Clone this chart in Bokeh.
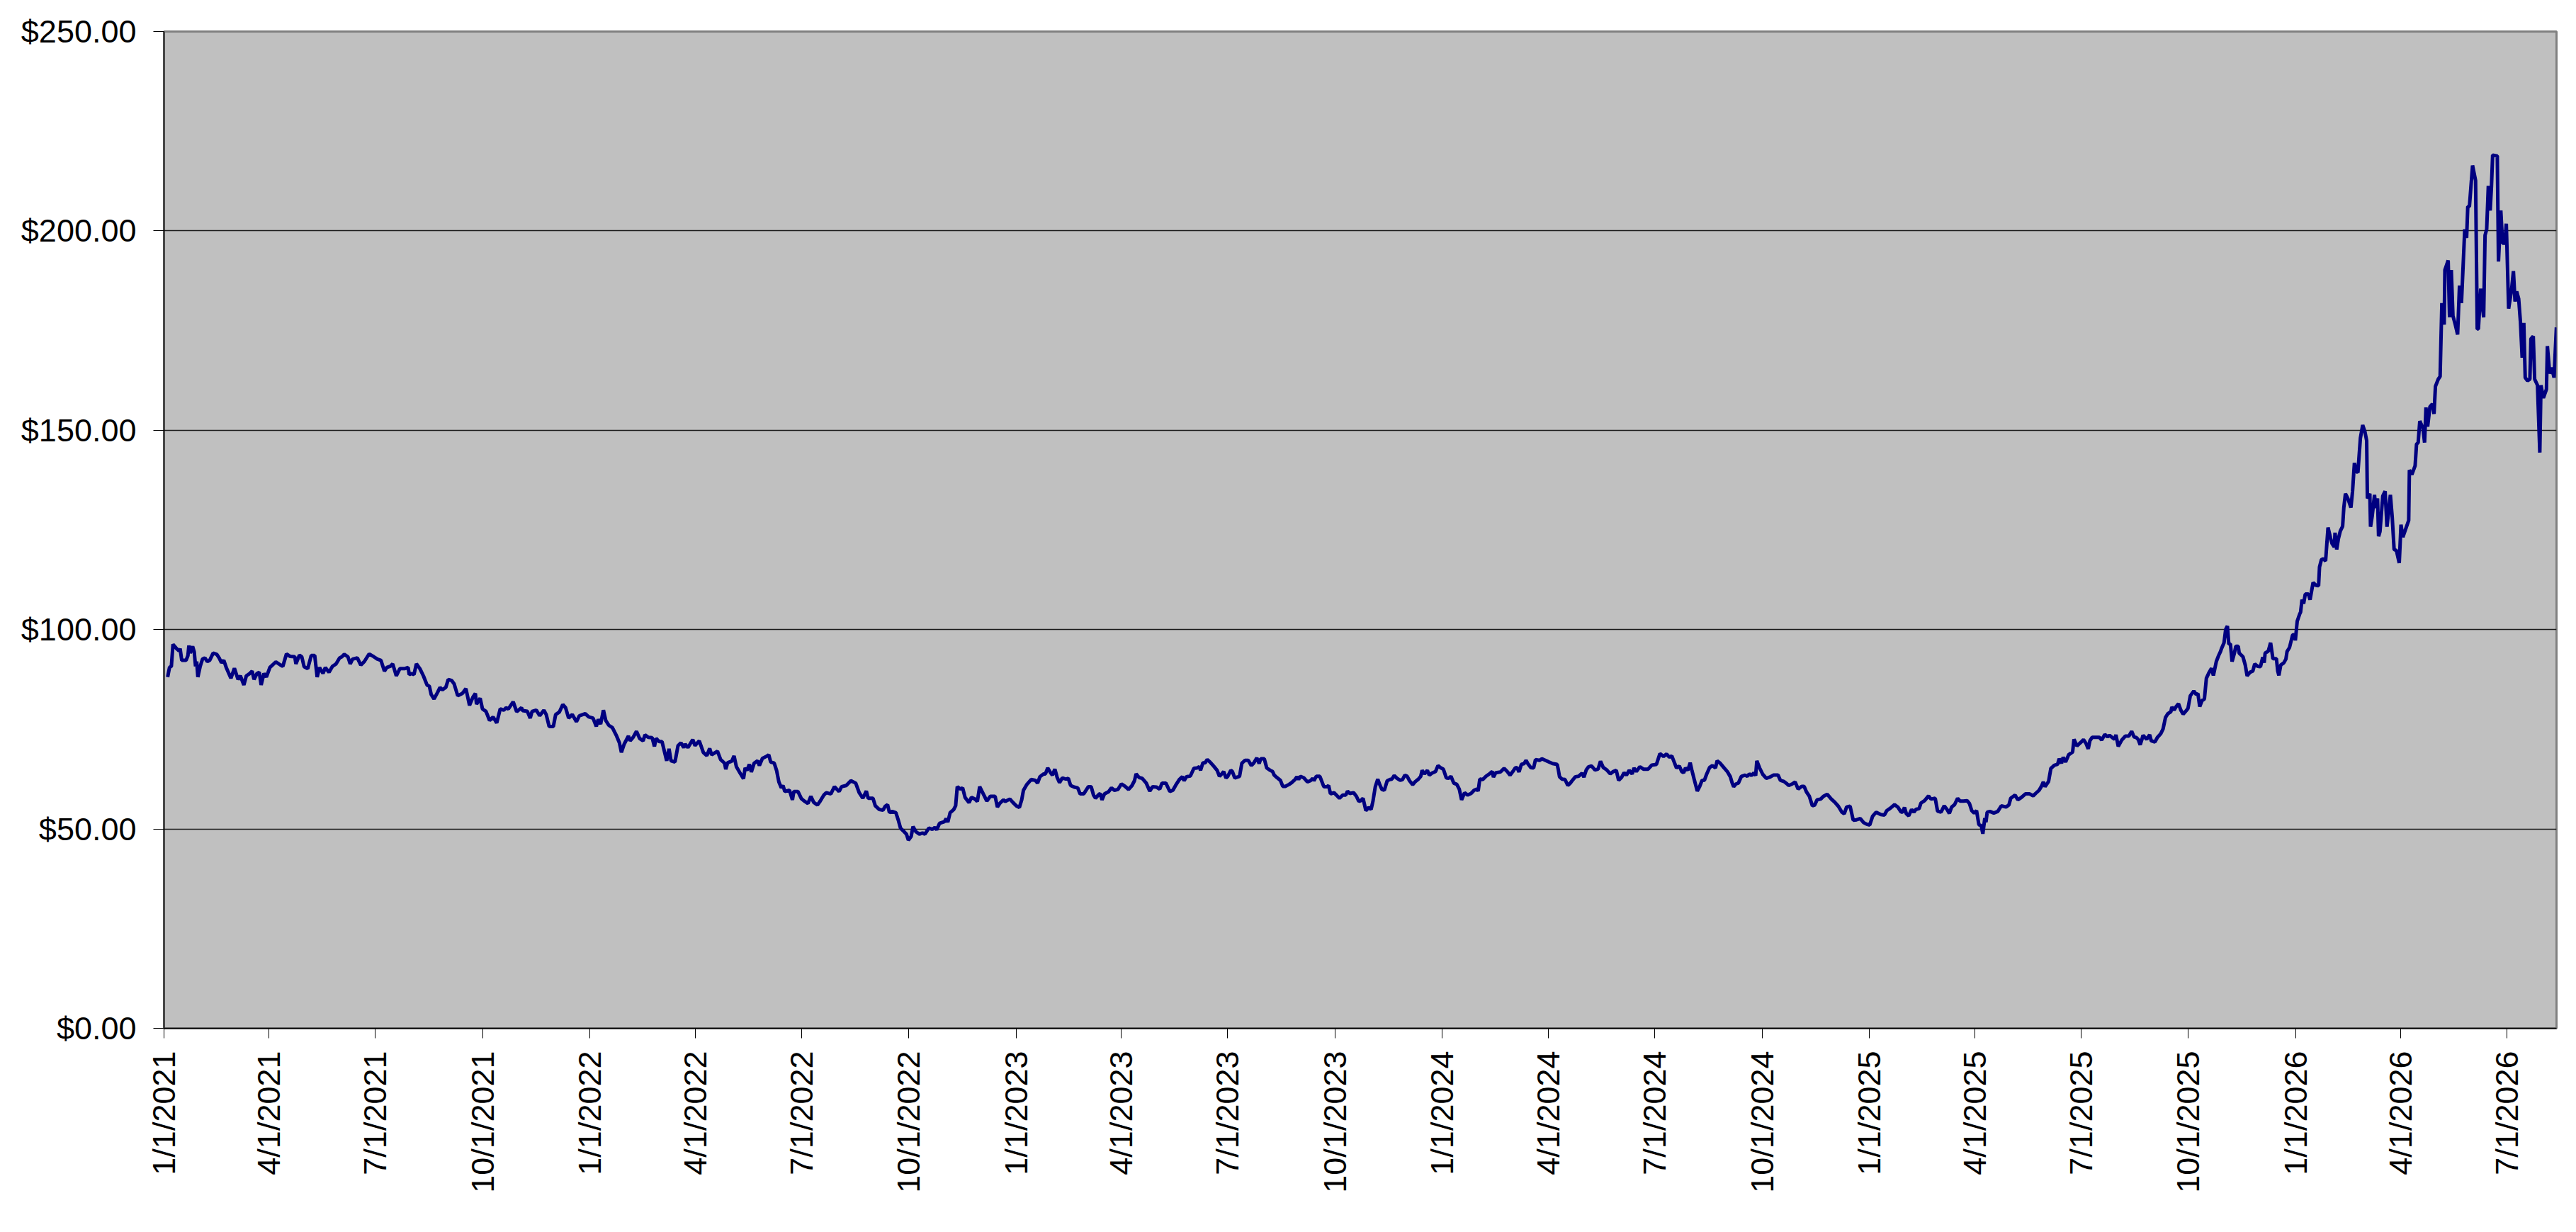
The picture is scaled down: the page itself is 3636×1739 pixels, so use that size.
import math
import pandas as pd
from bokeh.plotting import figure
from bokeh.models import Range1d, FixedTicker, NumeralTickFormatter, ColumnDataSource
from bokeh.embed import file_html
from bokeh.resources import INLINE

# ---------------- data ----------------
start_date = "2021-01-01"
axis_end_date = "2026-08-12 10:00"

# days since start_date
days = [
    3.1, 4.7, 6.3, 7.7, 10.8, 12.8, 13.8, 15.2, 18.9, 20.5,
    21.3, 22.5, 24.5, 25.9, 27.0, 28.0, 29.0, 31.0, 33.0, 35.0,
    37.1, 39.1, 42.1, 45.2, 47.2, 49.2, 51.2, 53.3, 57.3, 60.3,
    63.4, 65.4, 68.4, 70.5, 73.5, 75.5, 77.1, 79.6, 81.6, 83.2,
    85.6, 87.7, 90.7, 95.8, 99.8, 101.8, 104.9, 107.9, 112.0, 113.0,
    116.0, 118.0, 120.0, 123.1, 126.1, 129.1, 131.2, 133.2, 136.2, 138.2,
    141.3, 144.3, 147.4, 150.4, 152.4, 154.4, 157.5, 159.5, 161.5, 165.6,
    168.6, 171.6, 175.7, 179.7, 182.8, 185.8, 188.8, 190.9, 193.9, 195.9,
    199.0, 202.0, 206.0, 209.1, 210.1, 212.1, 214.1, 216.2, 219.2, 222.2,
    225.3, 227.3, 228.9, 231.3, 234.4, 236.4, 238.4, 241.4, 243.5, 246.5,
    248.5, 251.6, 255.6, 258.6, 261.7, 264.7, 266.7, 267.7, 270.8, 272.8,
    275.8, 278.9, 281.9, 285.0, 288.0,
    291.0, 293.0, 295.0, 299.1, 302.1, 306.2, 307.2, 311.2, 313.7, 315.3,
    318.9, 321.8, 325.4, 327.4, 329.9, 333.5, 335.5, 338.6, 341.6, 344.0,
    346.6, 349.7, 353.3, 355.8, 360.8, 363.8, 367.5, 370.3, 371.9, 374.0,
    376.4, 378.4, 381.0, 384.1, 387.7, 390.1, 391.8, 394.2, 397.8, 399.3,
    401.9, 404.7, 407.4, 410.4, 412.0, 414.8, 418.1, 420.1, 421.5, 424.1,
    426.6, 430.6, 432.6, 434.3, 437.7, 440.3, 442.8, 445.2, 446.4, 448.8,
    452.9, 454.9, 458.5, 462.0, 465.0, 467.4, 469.1, 474.1, 476.8, 480.2,
    481.2, 482.8, 486.3, 488.3, 490.3, 493.3, 496.4, 497.8, 499.4, 501.4,
    503.1, 505.5, 508.5, 510.0, 512.6, 516.6, 518.0, 519.7, 522.7, 524.7,
    526.7, 528.8, 530.2, 531.8, 535.8, 538.3, 539.5, 543.0, 546.0, 548.4,
    551.6, 554.1, 556.5, 559.7, 562.1, 565.2, 567.2, 571.2, 574.3, 578.3,
    580.4, 584.4,
    588.4, 592.5, 595.5, 598.6, 601.6, 603.2, 607.3, 609.3, 612.7, 615.8,
    617.8, 619.8, 621.4, 623.8, 626.9, 628.9, 630.9, 634.0, 636.0, 637.6,
    640.0, 641.6, 644.1, 647.1, 649.7, 651.8, 655.2, 658.2, 660.3, 661.9,
    664.3, 668.4, 670.0, 671.4, 673.4, 676.5, 678.1, 679.5, 682.1, 684.1,
    686.2, 689.6, 691.6, 694.7, 696.7, 698.7, 701.8, 704.8, 707.8, 711.9,
    713.9, 715.9, 719.0, 720.6, 724.6, 727.0, 730.1, 732.7, 734.7, 736.2,
    739.2, 742.8, 746.3, 748.3, 750.3, 753.4, 755.0, 757.0, 759.4, 761.0,
    763.1, 765.1, 767.1, 769.5, 772.6, 774.6, 776.6, 779.7, 782.7, 784.7,
    787.8, 791.8, 794.2, 796.2, 797.9, 800.3, 801.9, 803.5, 805.6, 809.0,
    811.6, 814.1, 817.1, 820.1, 823.2, 826.2, 829.2, 831.3, 832.7, 835.3,
    837.9, 841.4, 844.4, 846.8, 850.1, 852.9, 854.9, 858.2, 861.6, 864.2,
    867.1, 869.7, 872.3, 873.8, 875.8, 879.2,
    882.2, 884.9, 886.9, 887.9, 889.9, 891.9, 893.6, 896.0, 899.0, 902.1,
    904.1, 905.7, 907.7, 909.7, 911.2, 913.8, 915.2, 917.2, 920.3, 921.3,
    923.3, 925.9, 928.8, 931.4, 933.4, 936.1, 938.1, 939.5, 942.5, 944.6,
    947.6, 949.6, 951.0, 953.7, 956.3, 958.3, 960.7, 963.8, 965.8, 968.8,
    970.5, 971.9, 973.3, 976.5, 979.4, 982.0, 984.0, 985.0, 987.0, 990.1,
    993.5, 996.2, 997.6, 999.2, 1002.2, 1005.3, 1006.9, 1009.7, 1012.3, 1013.8,
    1015.8, 1019.0, 1021.4, 1023.5, 1025.1, 1027.1, 1029.5, 1032.0, 1034.0, 1035.6,
    1037.6, 1039.7, 1041.7, 1043.3, 1045.3, 1047.8, 1050.2, 1051.8, 1053.8, 1056.2,
    1058.9, 1060.9, 1062.9, 1064.9, 1066.9, 1069.6, 1071.6, 1074.5, 1076.5, 1077.7,
    1079.7, 1082.2, 1083.8, 1086.2, 1089.2, 1091.3, 1093.3, 1095.9, 1098.4, 1100.4,
    1102.4, 1104.8, 1107.4, 1109.5, 1111.5, 1114.1, 1116.6, 1119.6, 1122.2, 1124.6,
    1125.7, 1127.1, 1129.7, 1132.4, 1135.2, 1137.8, 1138.8, 1140.8, 1144.9, 1147.9,
    1150.6, 1153.0, 1155.4, 1157.4, 1159.0, 1160.7, 1162.7, 1165.1, 1166.7, 1168.2,
    1170.8, 1173.2, 1174.8,
    1178.2, 1180.3, 1183.3, 1186.3, 1189.4, 1193.4, 1194.4, 1195.4, 1197.5, 1200.1,
    1202.5, 1204.6, 1207.0, 1209.0, 1211.6, 1214.7, 1216.3, 1218.3, 1220.3, 1222.8,
    1225.8, 1228.4, 1230.5, 1232.9, 1235.9, 1238.9, 1241.4, 1244.0, 1246.0, 1248.7,
    1250.7, 1252.7, 1255.1, 1257.6, 1259.2, 1261.2, 1264.2, 1267.3, 1271.3, 1274.4,
    1278.4, 1281.4, 1284.5, 1287.1, 1289.5, 1291.6, 1293.6, 1295.6, 1298.0, 1300.1,
    1301.7, 1303.3, 1305.3, 1307.3, 1308.8, 1310.8, 1313.4, 1315.4, 1317.5, 1319.5,
    1321.5, 1323.9, 1326.4, 1329.0, 1330.4, 1333.0, 1336.1, 1339.1, 1341.7, 1343.2,
    1344.6, 1346.6, 1348.6, 1351.2, 1354.3, 1356.3, 1357.9, 1359.9, 1361.9, 1363.4,
    1364.4, 1366.8, 1369.5, 1372.5, 1375.5, 1378.6, 1382.6, 1384.6, 1387.7, 1390.3,
    1391.7, 1394.8, 1397.2, 1399.8, 1402.9, 1404.9, 1406.9, 1409.4, 1412.0, 1414.0,
    1416.0, 1419.1, 1421.5, 1424.7, 1428.2, 1431.2, 1434.2, 1437.3, 1439.3, 1441.3,
    1444.3, 1447.0, 1449.8, 1453.0, 1455.9, 1458.5, 1461.1, 1463.6, 1466.6,
    1470.6, 1473.7, 1475.7, 1478.7, 1482.4, 1485.2, 1487.8, 1489.2, 1490.9, 1492.5,
    1494.5, 1497.0, 1499.0, 1500.6, 1503.4, 1505.0, 1508.1, 1511.5, 1513.5, 1517.2,
    1519.2, 1522.2, 1524.9, 1527.3, 1529.3, 1531.3, 1533.8, 1536.4, 1538.4, 1541.4,
    1544.5, 1546.5, 1548.5, 1550.6, 1552.6, 1554.6, 1556.6, 1558.0, 1559.7, 1560.7,
    1561.7, 1564.1, 1567.4, 1570.8, 1573.8, 1577.9, 1580.3, 1581.9, 1585.6, 1588.0,
    1591.0, 1594.5, 1598.1, 1601.1, 1603.2, 1606.2, 1608.2, 1609.8, 1611.3, 1614.3,
    1616.3, 1619.3, 1622.0, 1623.4, 1625.4, 1626.8, 1628.9, 1631.5, 1634.9, 1636.1,
    1638.6, 1642.2, 1644.2, 1646.3, 1648.3, 1649.7, 1651.7, 1654.8, 1657.8, 1659.8,
    1662.5, 1664.9, 1666.5, 1668.9, 1670.9, 1672.0, 1674.0, 1677.0, 1680.1, 1683.1,
    1685.5, 1687.5, 1689.6, 1691.2, 1692.8, 1694.2, 1695.2, 1698.3, 1700.9, 1702.3,
    1705.4, 1707.4, 1710.4, 1712.4, 1714.5, 1716.5, 1719.1, 1719.9, 1721.9, 1723.6,
    1725.6, 1727.6, 1729.6, 1731.7, 1733.7, 1735.7, 1738.7, 1740.8, 1742.2, 1743.8,
    1745.8, 1747.8, 1749.5, 1751.9, 1753.9, 1755.5, 1758.0, 1760.0, 1761.6, 1762.4,
    1764.6, 1766.0, 1767.5, 1768.7, 1770.1, 1771.5, 1773.5, 1774.7, 1776.8, 1777.6,
    1780.8, 1782.8, 1784.4, 1786.9, 1789.3, 1790.9, 1793.4, 1795.8, 1797.8, 1799.0,
    1799.8, 1802.5, 1804.5, 1806.5, 1809.5, 1810.6, 1811.6, 1813.2, 1815.9, 1817.6,
    1818.6, 1820.7, 1823.3, 1824.7, 1825.7, 1827.3, 1829.4, 1830.2, 1831.4, 1832.8,
    1834.2, 1836.9, 1838.3, 1840.9, 1843.5, 1845.6, 1846.4, 1848.0, 1849.6, 1851.6,
    1853.7, 1855.7, 1857.1, 1859.1, 1859.7, 1861.1, 1862.6, 1864.2, 1866.2, 1867.2,
    1868.6, 1870.7, 1873.3, 1874.7, 1876.3, 1877.9, 1879.3, 1881.4, 1883.4, 1885.4,
    1886.8, 1887.4, 1889.5, 1890.1, 1891.5, 1893.5, 1894.5, 1896.1, 1897.0, 1898.2,
    1900.6, 1902.6, 1904.2, 1907.1, 1908.7, 1910.3, 1912.3,
    1914.7, 1916.2, 1917.8, 1922.8, 1923.4, 1925.5, 1928.3, 1929.5, 1930.9, 1932.3,
    1935.0, 1936.4, 1937.6, 1939.0, 1941.0, 1943.1, 1944.5, 1945.7, 1948.1, 1949.7,
    1951.2, 1953.2, 1953.8, 1956.6, 1957.8, 1959.3, 1960.7, 1962.7, 1964.7, 1966.3,
    1968.0, 1970.8, 1972.4, 1973.4, 1974.8, 1977.5, 1980.1, 1981.5, 1982.5, 1984.5,
    1987.0, 1988.2, 1989.6, 1991.0, 1992.6, 1993.7, 1994.7, 1998.7, 1999.7, 2001.7,
    2003.2, 2005.2, 2006.4, 2008.4, 2010.9, 2012.5, 2013.9, 2015.3, 2017.0, 2018.5,
    2020.0, 2021.4, 2022.6, 2024.6, 2026.6, 2027.5, 2029.5, 2030.7, 2033.1, 2035.1,
    2036.1, 2038.2, 2040.8, 2041.6, 2043.6, 2045.3, 2047.3, 2049.3,
]

prices = [
    88.1, 90.5, 90.8, 96.3, 95.2, 94.7, 95.2, 92.3, 92.3, 93.5,
    96.0, 94.1, 95.8, 94.4, 90.8, 92.0, 88.1, 90.8, 92.6, 92.9,
    92.0, 92.3, 94.1, 93.8, 92.9, 91.7, 92.3, 90.5, 87.8, 90.3,
    87.5, 88.4, 86.1, 88.4, 89.0, 89.6, 87.5, 89.0, 89.3, 86.1,
    89.0, 88.1, 90.5, 91.9, 91.1, 90.8, 93.9, 93.3, 93.2, 91.4,
    93.6, 93.2, 90.7, 90.2, 93.5, 93.5, 88.1, 90.5, 89.0, 90.5,
    89.3, 90.8, 91.4, 92.9, 93.2, 93.8, 93.2, 91.4, 92.6, 92.9,
    91.1, 92.0, 93.9, 93.2, 92.6, 92.3, 89.6, 90.5, 90.8, 91.4,
    88.4, 90.2, 90.2, 90.5, 88.7, 89.0, 88.7, 91.4, 90.2, 88.4,
    86.1, 85.8, 83.7, 82.6, 84.3, 85.5, 84.9, 85.5, 87.5, 87.2,
    86.4, 83.4, 84.0, 85.2, 81.0, 83.1, 84.0, 81.3, 82.8, 80.1,
    79.5, 77.2, 78.1, 76.6, 80.1,
    79.8, 80.4, 80.1, 81.9, 79.4, 80.4, 79.7, 79.5, 77.8, 79.5,
    79.8, 78.4, 79.8, 78.7, 75.7, 75.7, 78.7, 79.3, 81.2, 80.4,
    77.8, 78.7, 76.9, 78.4, 78.9, 78.1, 77.8, 75.7, 77.5, 76.3,
    79.8, 77.2, 76.0, 75.4, 73.3, 71.6, 69.2, 71.3, 73.3, 72.1,
    73.0, 74.5, 72.7, 72.1, 73.6, 73.0, 72.9, 70.7, 72.7, 71.9,
    71.9, 67.1, 70.1, 67.1, 66.8, 70.9, 71.6, 70.4, 71.3, 70.4,
    72.4, 70.9, 72.1, 69.2, 68.4, 70.2, 68.6, 69.5, 67.4, 66.5,
    65.0, 66.6, 67.0, 68.3, 65.6, 64.1, 62.6, 65.3, 64.7, 66.2,
    64.3, 66.5, 67.1, 65.9, 67.7, 68.3, 68.6, 66.8, 66.5, 64.7,
    61.8, 60.3, 60.9, 59.4, 59.7, 57.3, 59.4, 59.4, 57.6, 57.0,
    56.4, 58.2, 56.7, 56.0, 57.0, 58.5, 59.1, 58.8, 60.6, 59.4,
    60.6, 60.9,
    62.1, 61.5, 59.1, 57.7, 59.5, 57.7, 57.7, 55.8, 54.9, 54.7,
    55.7, 56.1, 54.1, 54.4, 54.1, 52.3, 50.2, 49.3, 48.7, 47.2,
    48.1, 50.6, 49.3, 48.7, 49.0, 48.7, 50.2, 49.9, 50.4, 49.8,
    51.4, 51.8, 52.6, 51.7, 54.1, 54.9, 55.8, 60.6, 60.0, 60.3,
    57.9, 56.6, 57.9, 57.5, 56.9, 60.6, 58.8, 57.0, 58.2, 58.2,
    55.5, 56.4, 57.3, 56.9, 57.5, 56.7, 55.8, 55.4, 57.3, 59.7,
    61.2, 62.4, 62.2, 61.5, 63.1, 63.8, 63.8, 65.3, 64.1, 63.5,
    65.0, 62.9, 61.6, 62.8, 62.5, 62.7, 60.9, 60.5, 60.3, 58.8,
    58.8, 60.6, 60.6, 58.5, 57.7, 58.5, 58.9, 57.3, 58.8, 59.3,
    60.3, 59.7, 59.9, 61.3, 60.7, 59.9, 60.9, 62.1, 63.8, 62.9,
    62.7, 61.5, 59.5, 60.6, 60.5, 60.0, 61.5, 61.5, 59.4, 59.7,
    61.2, 62.4, 63.1, 62.1, 63.1, 63.3,
    65.2, 65.3, 65.6, 64.7, 66.6, 66.6, 67.4, 66.8, 65.8, 64.7,
    63.2, 63.7, 64.4, 62.8, 63.2, 64.7, 64.4, 62.8, 63.1, 63.2,
    66.5, 67.2, 67.2, 65.9, 66.5, 67.8, 66.4, 67.6, 67.6, 65.3,
    64.7, 64.4, 63.5, 62.8, 62.2, 60.7, 60.7, 61.2, 61.6, 62.4,
    63.1, 62.4, 63.2, 62.8, 61.8, 62.1, 62.7, 62.1, 63.2, 63.2,
    60.6, 60.6, 60.9, 58.8, 59.1, 58.2, 57.7, 58.5, 58.5, 59.5,
    58.9, 59.1, 58.2, 56.9, 57.1, 57.7, 54.6, 55.4, 54.9, 57.0,
    60.6, 62.5, 60.9, 59.9, 59.7, 62.1, 62.4, 62.5, 63.4, 62.7,
    62.2, 62.4, 63.5, 63.2, 62.1, 61.1, 61.8, 62.5, 63.2, 64.7,
    63.8, 64.7, 63.5, 64.0, 64.4, 65.9, 65.4, 65.0, 62.8, 62.7,
    63.2, 61.5, 61.2, 60.0, 57.3, 59.1, 58.5, 58.9, 59.7, 60.0,
    59.5, 62.5, 62.4, 63.2, 63.8, 64.4, 63.0, 64.1, 64.3, 65.2,
    64.4, 63.5, 64.4, 65.3, 65.4, 64.3, 66.2, 66.4, 67.2, 66.4,
    65.4, 65.3, 67.4,
    67.2, 67.6, 67.2, 66.8, 66.4, 66.2, 64.8, 63.1, 62.5, 62.4,
    60.9, 61.5, 62.4, 63.1, 63.2, 64.0, 63.0, 64.8, 65.6, 65.8,
    64.8, 65.0, 67.0, 65.4, 64.8, 63.8, 64.4, 64.7, 62.2, 63.0,
    64.1, 63.5, 64.7, 63.8, 65.3, 64.4, 65.6, 65.0, 65.0, 66.0,
    66.2, 68.9, 68.2, 68.8, 68.0, 68.3, 66.8, 65.3, 65.8, 64.4,
    64.1, 65.3, 64.7, 66.6, 64.7, 62.4, 59.5, 60.6, 62.2, 62.2,
    63.8, 65.4, 65.9, 65.3, 67.1, 66.5, 65.4, 64.4, 63.1, 61.6,
    60.6, 61.3, 61.5, 63.2, 63.5, 63.2, 63.8, 63.4, 64.1, 63.4,
    67.1, 65.3, 63.7, 62.7, 63.0, 63.5, 63.5, 62.2, 61.9, 61.3,
    60.9, 61.3, 61.8, 60.0, 60.7, 60.7, 59.3, 58.2, 55.8, 56.0,
    57.3, 57.5, 58.2, 58.7, 57.5, 56.7, 55.7, 54.2, 53.8, 55.5,
    55.7, 52.2, 52.3, 52.6, 51.6, 51.2, 51.0, 53.2, 54.2,
    53.6, 53.5, 54.6, 55.2, 56.1, 55.5, 54.3, 54.2, 55.4, 53.8,
    53.3, 54.9, 54.2, 54.9, 55.1, 56.5, 57.1, 58.3, 57.5, 57.7,
    54.5, 54.2, 55.8, 54.9, 53.9, 55.5, 56.1, 57.7, 57.0, 57.0,
    57.1, 56.4, 54.6, 54.0, 54.6, 51.1, 50.8, 48.8, 52.7, 51.7,
    54.2, 54.4, 54.0, 54.4, 55.8, 55.5, 56.0, 57.7, 58.5, 57.3,
    57.9, 58.8, 58.8, 58.3, 58.9, 59.7, 60.7, 61.8, 60.6, 61.9,
    65.2, 66.0, 66.2, 67.6, 66.5, 68.0, 66.8, 68.6, 69.3, 72.5,
    70.8, 71.8, 72.4, 71.5, 70.1, 72.1, 73.0, 73.0, 73.0, 72.3,
    73.7, 73.1, 73.5, 72.9, 72.5, 73.6, 70.7, 72.3, 73.3, 73.3,
    74.5, 73.1, 72.9, 72.4, 71.1, 72.4, 73.5, 72.5, 73.6, 72.1,
    71.8, 72.9, 73.9, 75.1, 78.0, 78.9, 79.4, 80.6, 79.8, 80.7,
    81.4, 79.8, 78.8, 79.5, 80.2, 83.4, 84.6, 83.7, 84.0, 80.7,
    82.2, 82.6, 87.8, 89.3, 90.3, 88.5, 92.0, 93.5, 94.5, 95.2,
    96.7, 100.0, 100.9, 96.4, 96.4, 92.0, 94.1, 95.8, 95.8, 94.1,
    93.2, 91.1, 88.4, 89.3, 89.6, 91.4, 90.8, 90.7, 93.1, 91.7,
    94.1, 94.6, 96.7, 92.7, 92.7, 89.6, 88.5, 91.1, 91.7, 92.6,
    94.5, 95.5, 98.6, 98.8, 97.3, 102.1, 103.9, 104.4, 107.5, 106.5,
    108.9, 108.9, 107.5, 111.8, 111.1, 111.0, 115.7, 117.5, 117.8, 117.2,
    125.6, 123.1, 121.6, 120.7, 124.3, 120.1, 122.8, 124.7, 125.9, 130.5,
    134.1, 132.9, 130.6, 134.7, 141.8, 139.7, 139.4, 148.0, 151.3, 149.5,
    147.4, 132.9, 134.1, 125.8, 128.4, 133.8, 130.5, 132.9, 123.4, 124.6,
    133.5, 134.7, 125.8, 133.8, 128.1, 120.1, 119.8,
    116.7, 126.3, 123.2, 127.4, 140.0, 138.9, 141.1, 146.5, 146.9, 152.3,
    150.5, 146.9, 155.7, 150.9, 155.9, 156.6, 154.1, 161.0, 162.8, 163.5,
    181.9, 176.5, 190.2, 192.6, 178.3, 190.2, 178.7, 176.5, 174.0, 186.3,
    181.9, 200.4, 198.2, 206.1, 206.1, 216.4, 212.6, 175.4, 175.4, 185.5,
    178.3, 198.9, 200.4, 211.3, 205.1, 211.2, 219.0, 218.8, 192.3, 205.1,
    196.9, 196.9, 201.8, 180.5, 185.2, 189.9, 182.3, 184.8, 183.0, 177.2,
    168.2, 176.9, 163.2, 162.4, 162.8, 172.9, 173.6, 162.8, 161.3, 144.4,
    161.3, 158.1, 160.3, 171.1, 164.2, 165.7, 163.2, 175.8,
]

tick_dates = [
    "2021-01-01", "2021-04-01", "2021-07-01", "2021-10-01",
    "2022-01-01", "2022-04-01", "2022-07-01", "2022-10-01",
    "2023-01-01", "2023-04-01", "2023-07-01", "2023-10-01",
    "2024-01-01", "2024-04-01", "2024-07-01", "2024-10-01",
    "2025-01-01", "2025-04-01", "2025-07-01", "2025-10-01",
    "2026-01-01", "2026-04-01", "2026-07-01",
]
tick_labels = [
    "1/1/2021", "4/1/2021", "7/1/2021", "10/1/2021",
    "1/1/2022", "4/1/2022", "7/1/2022", "10/1/2022",
    "1/1/2023", "4/1/2023", "7/1/2023", "10/1/2023",
    "1/1/2024", "4/1/2024", "7/1/2024", "10/1/2024",
    "1/1/2025", "4/1/2025", "7/1/2025", "10/1/2025",
    "1/1/2026", "4/1/2026", "7/1/2026",
]
y_ticks = [0, 50, 100, 150, 200, 250]
y_grid = [50, 100, 150, 200]

# ---------------- build ----------------
n = min(len(days), len(prices))
t0 = pd.Timestamp(start_date)
dates = [t0 + pd.Timedelta(days=d) for d in days[:n]]
src = ColumnDataSource(dict(date=dates, price=prices[:n]))

tick_ms = [pd.Timestamp(d).value / 1e6 for d in tick_dates]

FONT = "Liberation Sans"

p = figure(
    width=3636, height=1739,
    x_axis_type="datetime",
    x_range=Range1d(t0, pd.Timestamp(axis_end_date)),
    y_range=Range1d(0, 250),
    output_backend="svg", toolbar_location=None,
    min_border_left=231, min_border_right=28,
    min_border_top=44, min_border_bottom=288,
    background_fill_color="#C0C0C0", border_fill_color="white",
)
p.outline_line_color = "#808080"
p.outline_line_width = 3

p.line("date", "price", source=src, line_color="#000080", line_width=5)

# x axis
xa = p.xaxis[0]
xa.ticker = FixedTicker(ticks=tick_ms, minor_ticks=[])
xa.major_label_overrides = {ms: lab for ms, lab in zip(tick_ms, tick_labels)}
xa.major_label_orientation = math.pi / 2
xa.major_label_text_font = FONT
xa.major_label_text_font_size = "45px"
xa.major_label_text_color = "black"
xa.major_label_standoff = 18
xa.major_tick_out = 14
xa.major_tick_in = 0
xa.minor_tick_out = 0
xa.minor_tick_in = 0
xa.major_tick_line_color = "black"
xa.axis_line_color = "black"
xa.axis_line_width = 1.5

# y axis
ya = p.yaxis[0]
ya.ticker = FixedTicker(ticks=y_ticks, minor_ticks=[])
ya.formatter = NumeralTickFormatter(format="$0.00")
ya.major_label_text_font = FONT
ya.major_label_text_font_size = "45px"
ya.major_label_text_color = "black"
ya.major_label_standoff = 24
ya.major_tick_out = 15
ya.major_tick_in = 0
ya.minor_tick_out = 0
ya.minor_tick_in = 0
ya.major_tick_line_color = "black"
ya.axis_line_color = "black"
ya.axis_line_width = 1.5

p.xgrid.visible = False
p.ygrid.ticker = FixedTicker(ticks=y_grid)
p.ygrid.grid_line_color = "#1a1a1a"
p.ygrid.grid_line_width = 1.3

open("out.html", "w").write(file_html(p, INLINE))
